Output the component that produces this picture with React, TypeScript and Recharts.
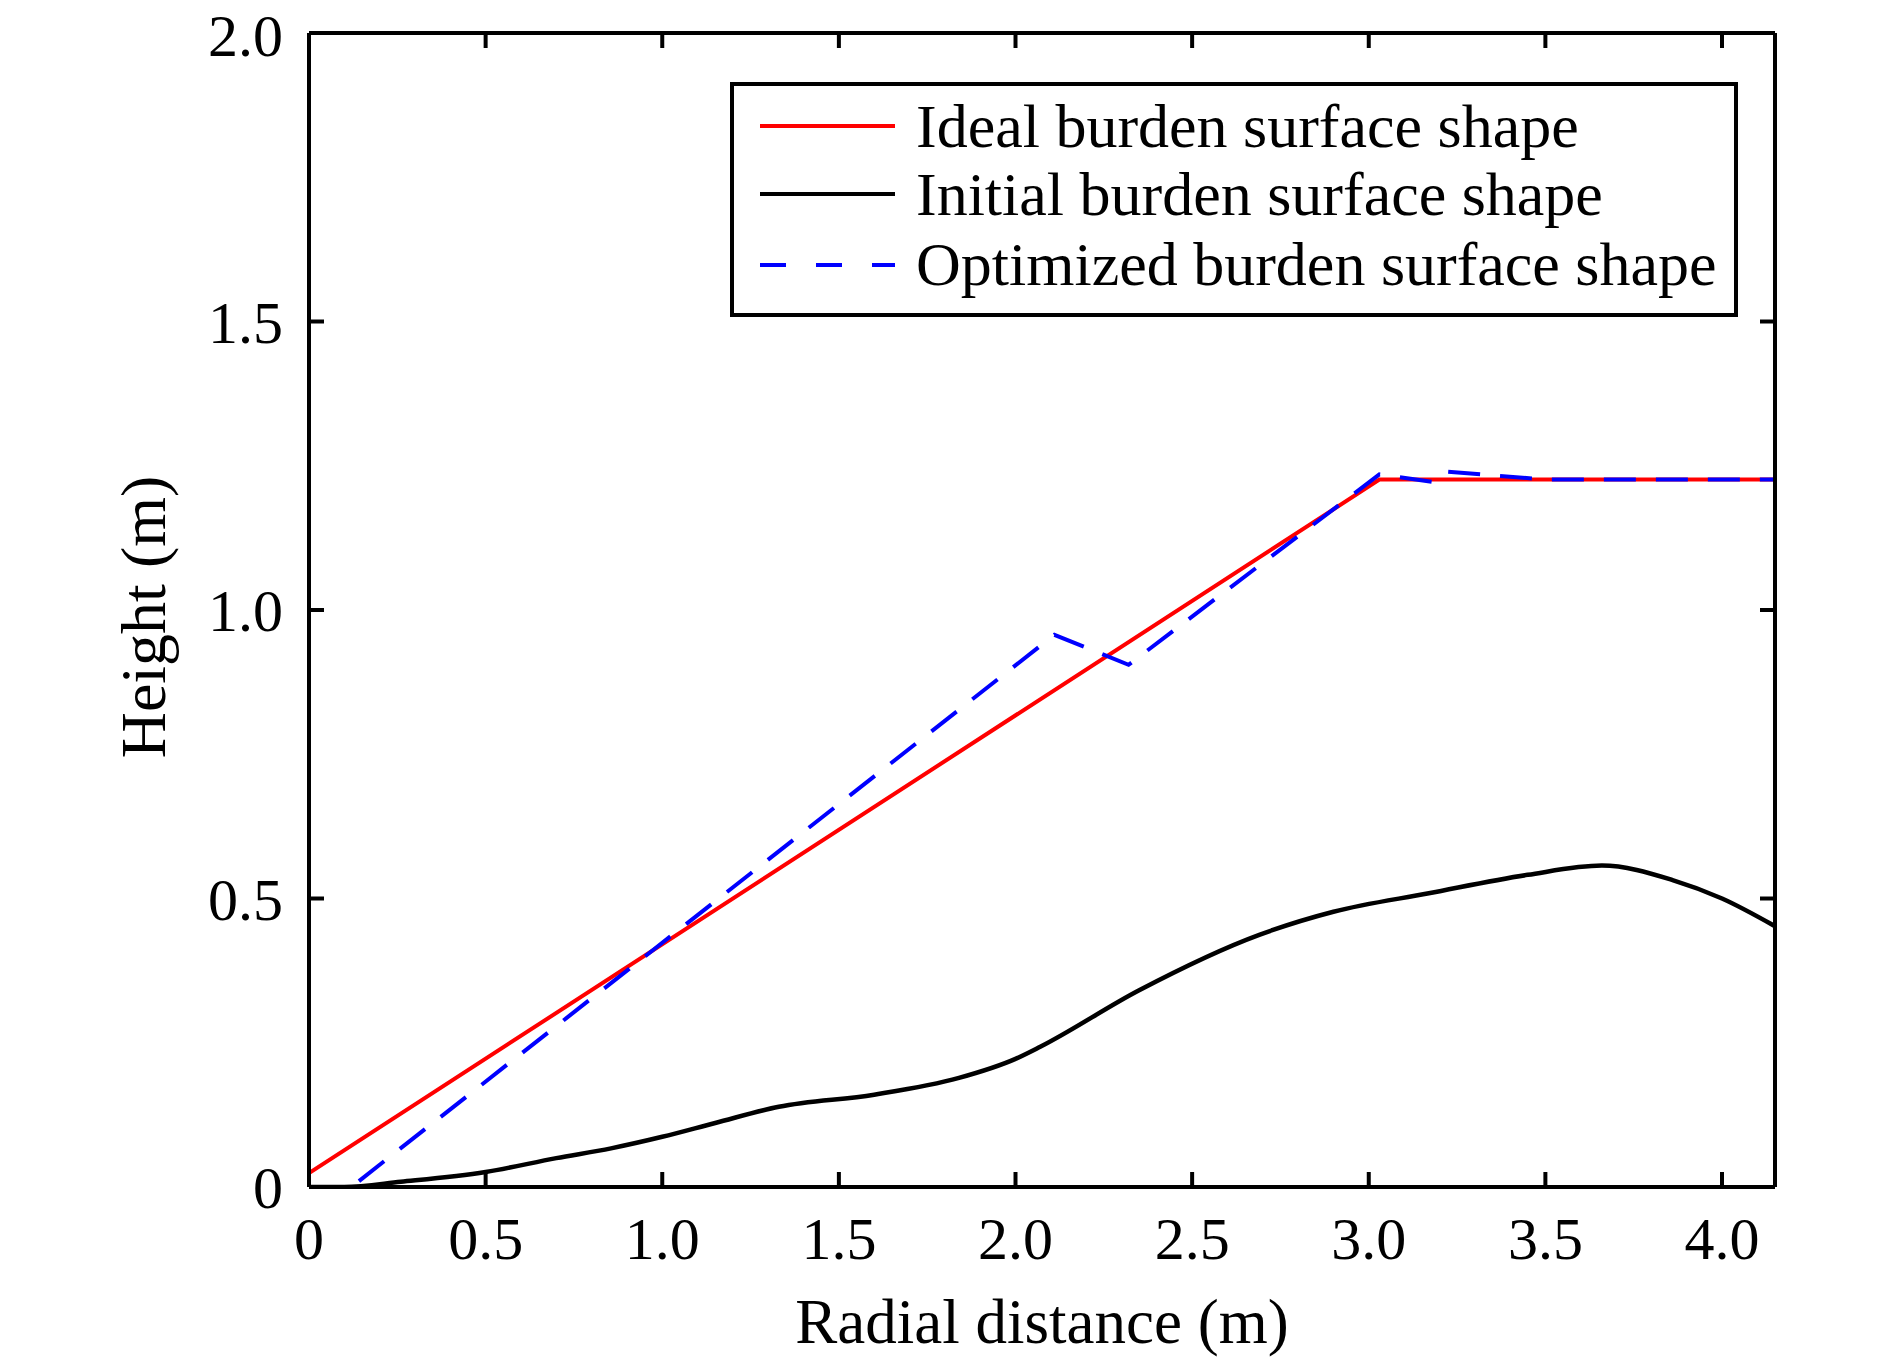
import React from 'react';
import { LineChart, Line, XAxis, YAxis, Legend, ReferenceLine } from 'recharts';

const FONT = '"Liberation Serif", "Times New Roman", serif';

// Ideal burden surface shape (red)
const idealX = [0, 3.03, 4.15];
const idealY = [0.024, 1.226, 1.226];

// Initial burden surface shape (black)
const initialX = [0, 0.1, 0.26, 0.5, 0.7, 0.855, 1.0, 1.15, 1.33, 1.6, 1.84, 2.0, 2.07, 2.35, 2.69, 2.9, 3.17, 3.45, 3.66, 3.86, 4.0, 4.15];
const initialY = [0, 0, 0.009, 0.026, 0.05, 0.067, 0.087, 0.111, 0.139, 0.16, 0.189, 0.222, 0.243, 0.341, 0.437, 0.477, 0.509, 0.541, 0.557, 0.532, 0.5, 0.452];

// Optimized burden surface shape (blue dashed)
const optimizedX = [0, 0.12, 2.11, 2.32, 3.03, 3.18, 3.22, 3.5, 4.15];
const optimizedY = [0, 0, 0.957, 0.905, 1.235, 1.222, 1.24, 1.226, 1.226];

const xTicks = [0, 0.5, 1.0, 1.5, 2.0, 2.5, 3.0, 3.5, 4.0];
const yTicks = [0, 0.5, 1.0, 1.5, 2.0];

const seriesNames = ['Ideal burden surface shape', 'Initial burden surface shape', 'Optimized burden surface shape'];
const seriesColors = ['#ff0000', '#000000', '#0000ff'];
const seriesDash = ['', '', '32 20'];

const X_DOMAIN: [number, number] = [0, 4.15];
const Y_DOMAIN: [number, number] = [0, 2];

const toData = (xs: number[], ys: number[]) => xs.map((x, i) => ({ x, y: ys[i] }));
const idealData = toData(idealX, idealY);
const initialData = toData(initialX, initialY);
const optimizedData = toData(optimizedX, optimizedY);

const fmt = (v: number) => (v === 0 ? '0' : v.toFixed(1));

const TICK_LEN = 15;
// inward tick length expressed in axis units (plot area 1466 x 1154 px)
const TICK_DX = ((X_DOMAIN[1] - X_DOMAIN[0]) * TICK_LEN) / 1466;
const TICK_DY = ((Y_DOMAIN[1] - Y_DOMAIN[0]) * TICK_LEN) / 1154;

const TopTick = (p: any) => (
  <line x1={p.x} x2={p.x} y1={p.y} y2={p.y + TICK_LEN} stroke="#000" strokeWidth={4} />
);
const RightTick = (p: any) => (
  <line x1={p.x} x2={p.x - TICK_LEN} y1={p.y} y2={p.y} stroke="#000" strokeWidth={4} />
);

const tickText = { fill: '#000', fontSize: 60, fontFamily: FONT };
const frame = { stroke: '#000', strokeWidth: 4 };

const LegendBox = () => {
  const w = 1008;
  const h = 235;
  const rowsY = [44, 112, 183];
  const baseY = [65, 133, 203];
  return (
    <svg width={w} height={h} style={{ display: 'block' }}>
      <rect x={2} y={2} width={w - 4} height={h - 4} fill="#ffffff" stroke="#000" strokeWidth={4} />
      {seriesNames.map((n, i) => (
        <g key={n}>
          <line x1={30} x2={165} y1={rowsY[i]} y2={rowsY[i]} stroke={seriesColors[i]} strokeWidth={4}
            strokeDasharray={i === 2 ? '26 30' : undefined} />
          <text x={186} y={baseY[i]} fontFamily={FONT} fontSize={62} fill="#000">{n}</text>
        </g>
      ))}
    </svg>
  );
};

export default function App() {
  return (
    <div style={{ position: 'absolute', left: 0, top: 0, width: 1890, height: 1362, background: '#fff' }}>
      <LineChart width={1890} height={1362} margin={{ top: 31, right: 113, left: 0, bottom: 0 }}>
        <XAxis
          xAxisId="b"
          type="number"
          dataKey="x"
          domain={X_DOMAIN}
          ticks={xTicks}
          tickFormatter={fmt}
          height={175}
          tickSize={0}
          tickMargin={29}
          axisLine={frame}
          tickLine={false}
          tick={tickText}
          allowDataOverflow
          label={{
            position: 'center',
            content: (p: any) => {
              const vb = p.viewBox || { x: 309, y: 1187, width: 1466, height: 175 };
              return (
                <text x={vb.x + vb.width / 2} y={vb.y + 156} textAnchor="middle" fontFamily={FONT} fontSize={63} fill="#000">
                  Radial distance (m)
                </text>
              );
            },
          }}
        />
        <XAxis
          xAxisId="t"
          orientation="top"
          type="number"
          dataKey="x"
          domain={X_DOMAIN}
          ticks={xTicks}
          height={2}
          tickSize={0}
          tickMargin={0}
          tick={<TopTick />}
          axisLine={frame}
          tickLine={false}
          allowDataOverflow
        />
        <YAxis
          yAxisId="l"
          type="number"
          domain={Y_DOMAIN}
          ticks={yTicks}
          tickFormatter={fmt}
          width={309}
          tickSize={0}
          tickMargin={26}
          axisLine={frame}
          tickLine={false}
          tick={tickText}
          allowDataOverflow
          label={{
            position: 'center',
            content: (p: any) => {
              const vb = p.viewBox || { x: 0, y: 33, width: 309, height: 1154 };
              const cx = vb.x + 165;
              const cy = vb.y + vb.height / 2 + 7;
              return (
                <text x={cx} y={cy} transform={`rotate(-90 ${cx} ${cy})`} textAnchor="middle" fontFamily={FONT} fontSize={64} fill="#000">
                  Height (m)
                </text>
              );
            },
          }}
        />
        <YAxis
          yAxisId="r"
          orientation="right"
          type="number"
          domain={Y_DOMAIN}
          ticks={yTicks}
          width={2}
          tickSize={0}
          tickMargin={0}
          tick={<RightTick />}
          axisLine={frame}
          tickLine={false}
          allowDataOverflow
        />
        {xTicks.map((v) => (
          <ReferenceLine
            key={`bx${v}`}
            xAxisId="b"
            yAxisId="l"
            segment={[{ x: v, y: Y_DOMAIN[0] }, { x: v, y: Y_DOMAIN[0] + TICK_DY }]}
            stroke="#000"
            strokeWidth={4}
            ifOverflow="visible"
          />
        ))}
        {yTicks.map((v) => (
          <ReferenceLine
            key={`ly${v}`}
            xAxisId="b"
            yAxisId="l"
            segment={[{ x: X_DOMAIN[0], y: v }, { x: X_DOMAIN[0] + TICK_DX, y: v }]}
            stroke="#000"
            strokeWidth={4}
            ifOverflow="visible"
          />
        ))}
        <Legend
          layout="horizontal"
          verticalAlign="middle"
          align="center"
          wrapperStyle={{ position: 'absolute', left: 730, top: 82, width: 1008, height: 235 }}
          content={() => <LegendBox />}
        />
        <Line
          xAxisId="b"
          yAxisId="l"
          data={idealData}
          dataKey="y"
          name={seriesNames[0]}
          type="linear"
          stroke={seriesColors[0]}
          strokeWidth={4}
          dot={false}
          activeDot={false}
          isAnimationActive={false}
        />
        <Line
          xAxisId="b"
          yAxisId="l"
          data={initialData}
          dataKey="y"
          name={seriesNames[1]}
          type="monotone"
          stroke={seriesColors[1]}
          strokeWidth={4.5}
          dot={false}
          activeDot={false}
          isAnimationActive={false}
        />
        <Line
          xAxisId="b"
          yAxisId="l"
          data={optimizedData}
          dataKey="y"
          name={seriesNames[2]}
          type="linear"
          stroke={seriesColors[2]}
          strokeWidth={4}
          strokeDasharray={seriesDash[2]}
          dot={false}
          activeDot={false}
          isAnimationActive={false}
        />
      </LineChart>
    </div>
  );
}
